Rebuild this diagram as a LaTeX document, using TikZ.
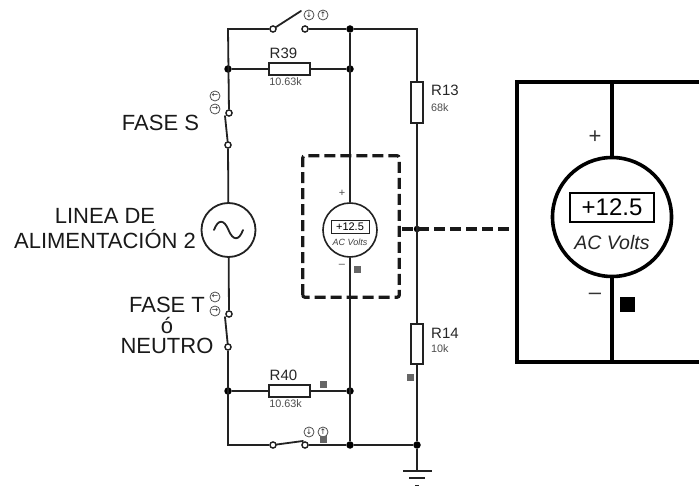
\documentclass[tikz,border=0pt]{standalone}
\usepackage{fontspec}
\setmainfont{Liberation Sans}
\newfontfamily\arrowfont{DejaVu Sans}
\usetikzlibrary{positioning}
\definecolor{wirec}{HTML}{222222}
\definecolor{pingrey}{HTML}{666666}
\tikzset{
  wire/.style={line width=1.8pt,draw=wirec},
  cont/.style={circle,draw=wirec,fill=white,line width=1.3pt,inner sep=0pt,minimum size=6pt},
  jun/.style={circle,fill=black,inner sep=0pt,minimum size=7.5pt},
  res/.style={draw=wirec,fill=white,line width=1.5pt,inner sep=0pt},
  pinsq/.style={fill=pingrey,inner sep=0pt,minimum size=7pt},
  ref/.style={inner sep=0pt,font=\fontsize{15}{15}\selectfont,text=black!85},
  val/.style={inner sep=0pt,font=\fontsize{10.8}{11}\selectfont,text=black!70},
  lab/.style={inner sep=0pt,align=center,font=\fontsize{22}{25}\selectfont,text=black!90},
  dir/.style={circle,draw=black!70,line width=0.8pt,inner sep=0pt,minimum size=10pt,font=\arrowfont\fontsize{7.5}{7.5}\selectfont,text=black!85},
  dashbox/.style={line width=3.2pt,dash pattern=on 11pt off 5pt,draw=black!90}
}
\begin{document}
\begin{tikzpicture}[x=1pt,y=-1pt]
  \useasboundingbox (0,0) rectangle (699,486);
  % corners and junctions
  \coordinate (tl) at (228,29);
  \coordinate (bl) at (228,445);
  \node[jun] (jtm) at (350,29) {};
  \coordinate (tr) at (417,29);
  \node[jun] (jrl) at (228,69) {};
  \node[jun] (jrm) at (350,69) {};
  \node[jun] (jbl) at (228,391) {};
  \node[jun] (jbm) at (350,391) {};
  \node[jun] (jem) at (350,445) {};
  \node[jun] (jer) at (417,445) {};
  \node[jun,minimum size=6.5pt] (jmid) at (417,229) {};
  % contacts
  \node[cont] (s1a) at (273,29) {};
  \node[cont] (s1b) at (305,29) {};
  \node[cont] (s2a) at (229,113) {};
  \node[cont] (s2b) at (228,145) {};
  \node[cont] (s3a) at (229,314) {};
  \node[cont] (s3b) at (228,347) {};
  \node[cont] (s4a) at (273,445) {};
  \node[cont] (s4b) at (305,445) {};
  % parts
  \node[res,minimum width=41pt,minimum height=12pt] (r39) at (289.5,69) {};
  \node[res,minimum width=41pt,minimum height=12pt] (r40) at (289.5,391) {};
  \node[res,minimum width=12pt,minimum height=41pt] (r13) at (417,102.5) {};
  \node[res,minimum width=12pt,minimum height=40pt] (r14) at (417,344) {};
  \node[circle,draw=wirec,line width=1.8pt,fill=white,minimum size=54pt,inner sep=0pt] (src) at (228.5,230) {};
  \node[circle,draw=wirec,line width=1.6pt,fill=white,minimum size=54pt,inner sep=0pt] (vm) at (350,230) {};
  % wires
  \draw[wire] (s1a) -- (tl) -- (s2a);
  \draw[wire] (s2b) -- (src);
  \draw[wire] (src) -- (s3a);
  \draw[wire] (s3b) -- (bl) -- (s4a);
  \draw[wire] (s4b) -- (jem) -- (jer);
  \draw[wire] (s1b) -- (jtm) -- (tr) -- (r13);
  \draw[wire] (r13) -- (r14);
  \draw[wire] (r14) -- (jer);
  \draw[wire] (jrl) -- (r39) -- (jrm);
  \draw[wire] (jbl) -- (r40) -- (jbm);
  \draw[wire] (jtm) -- (vm);
  \draw[wire] (vm) -- (jem);
  % switch arms
  \draw[wire,line cap=round] (s1a) -- (301,11);
  \draw[wire,line cap=round] (s2b) -- (225,116);
  \draw[wire,line cap=round] (s3b) -- (225,317);
  \draw[wire,line cap=round] (s4a) -- (303,441);
  \path (s1a) node[cont] {} (s1b) node[cont] {} (s2a) node[cont] {} (s2b) node[cont] {}
        (s3a) node[cont] {} (s3b) node[cont] {} (s4a) node[cont] {} (s4b) node[cont] {};
  % ground
  \coordinate (gnd) at (417,471);
  \draw[wire] (jer) -- (gnd);
  \draw[wire] (403,471) -- (432,471);
  \draw[wire] (409,478) -- (425,478);
  \draw[wire] (415,485.4) -- (419,485.4);
  % sine
  \draw[wire,line cap=round] (214,230) .. controls (218,219) and (224,219) .. (228.5,230) .. controls (233,241) and (239,241) .. (243,230);
  % text
  \node[ref] (t39) at (283.5,53) {R39};
  \node[val] (v39) at (285.5,82) {10.63k};
  \node[ref] (t40) at (283.5,375) {R40};
  \node[val] (v40) at (285.5,404) {10.63k};
  \node[ref,anchor=west] (t13) at (431,90) {R13};
  \node[val,anchor=west] (v13) at (431,108) {68k};
  \node[ref,anchor=west] (t14) at (431,333) {R14};
  \node[val,anchor=west] (v14) at (431,349) {10k};
  \node[lab] (fs) at (160.5,123) {FASE S};
  \node[lab] (linea) at (105,229) {LINEA DE\\ALIMENTACIÓN 2};
  \node[lab,font=\fontsize{22}{20.5}\selectfont] (ft) at (167,325.5) {FASE T\\ó\\NEUTRO};
  % direction marks
  \node[dir] (d1) at (309,15) {↓};
  \node[dir] (d2) at (323,15) {↑};
  \node[dir] (d3) at (215,96) {←};
  \node[dir] (d4) at (215,109) {→};
  \node[dir] (d5) at (215,297) {←};
  \node[dir] (d6) at (215,311) {→};
  \node[dir] (d7) at (309,432) {↓};
  \node[dir] (d8) at (323,432) {↑};
  % pin state marks
  \node[pinsq] (p1) at (323,384) {};
  \node[pinsq] (p2) at (410,377) {};
  \node[pinsq] (p3) at (323,439) {};
  \node[pinsq] (p4) at (357,270) {};
  % small meter
  \node[draw=wirec,line width=0.9pt,fill=white,minimum width=38pt,minimum height=13pt,inner sep=0pt,font=\fontsize{11}{12}\selectfont] (disp) at (350,226.5) {+12.5};
  \node[inner sep=0pt,font=\fontsize{9}{9}\selectfont\itshape,text=black!75] (acv) at (350,242) {AC Volts};
  \node[inner sep=0pt,font=\fontsize{11}{11}\selectfont,text=black!70] (mp) at (342,193) {+};
  \node[inner sep=0pt,font=\fontsize{11}{11}\selectfont,text=black!70] (mm) at (342,266) {--};
  % dashed zoom box
  \node[draw=none,minimum width=96pt,minimum height=141pt,inner sep=0pt] (zbox) at (351,226.5) {};
  \draw[dashbox,rounded corners=2pt] (zbox.south west) rectangle (zbox.north east);
  \coordinate (zstart) at (402,229);
  \coordinate (zend) at (510,229);
  \draw[dashbox] (zstart) -- (zend);
  % enlarged meter
  \coordinate (bigtl) at (517,82);
  \coordinate (bigbl) at (517,362);
  \coordinate (bigtr) at (699,82);
  \coordinate (bigbr) at (699,362);
  \coordinate (bigtm) at (612,82);
  \coordinate (bigbm) at (612,362);
  \node[circle,draw=black,line width=3.6pt,fill=white,minimum size=119pt,inner sep=0pt] (bigvm) at (612,217) {};
  \draw[line width=3.6pt,draw=black] (bigtr) -- (bigtl) -- (bigbl) -- (bigbr);
  \draw[line width=3.6pt,draw=black] (bigtm) -- (bigvm);
  \draw[line width=3.6pt,draw=black] (bigvm) -- (bigbm);
  \node[draw=black,line width=1.1pt,minimum width=84pt,minimum height=29pt,inner sep=0pt,font=\fontsize{24}{24}\selectfont] (bigdisp) at (612,207.5) {+12.5};
  \node[inner sep=0pt,font=\fontsize{19.5}{20}\selectfont\itshape,text=black!85] (bigacv) at (612,243) {AC Volts};
  \node[inner sep=0pt,font=\fontsize{22}{22}\selectfont,text=black!80] (bigp) at (595,137) {+};
  \node[inner sep=0pt,font=\fontsize{22}{22}\selectfont,text=black!80] (bigm) at (595,296) {--};
  \node[fill=black,inner sep=0pt,minimum size=15pt] (bigsq) at (627,305) {};
\end{tikzpicture}
\end{document}
